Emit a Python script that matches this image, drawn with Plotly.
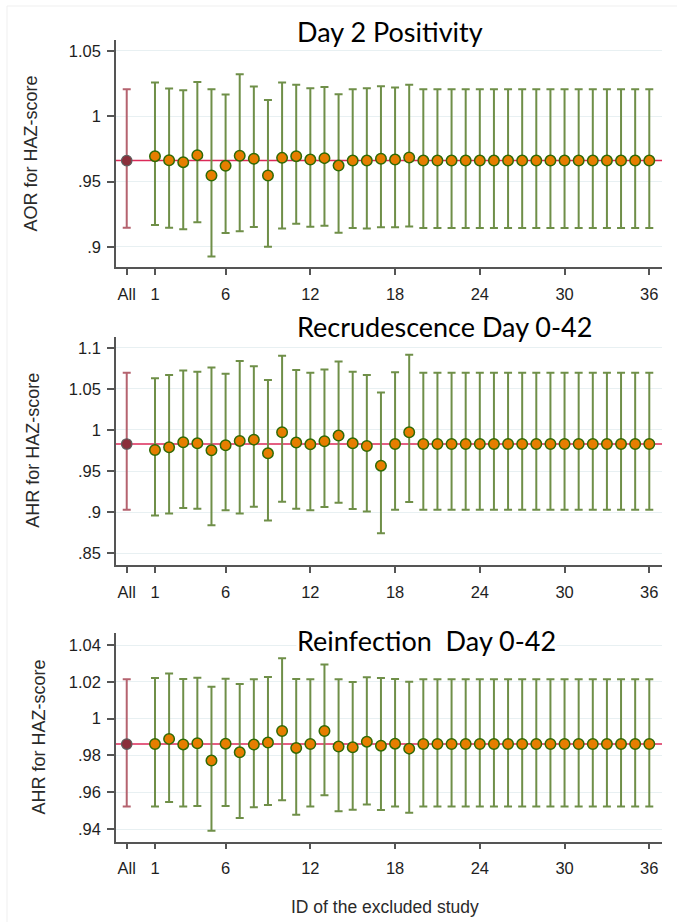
import plotly.graph_objects as go

W, H = 686, 922

# ---------------- data ----------------
study_ids = list(range(1, 37))
x_tickvals = [-1, 1, 6, 12, 18, 24, 30, 36]
x_ticktext = ["All", "1", "6", "12", "18", "24", "30", "36"]

titles = ["Day 2 Positivity", "Recrudescence Day 0-42", "Reinfection  Day 0-42"]
ytitles = ["AOR for HAZ-score", "AHR for HAZ-score", "AHR for HAZ-score"]
xtitle = "ID of the excluded study"

# Panel 1: Day 2 positivity
p1_all = [0.9660, 0.9145, 1.0207]  # estimate, lower, upper
p1_est = [0.9694, 0.9663, 0.9648, 0.9702, 0.9546, 0.9620, 0.9697, 0.9674, 0.9546, 0.9681,
          0.9694, 0.9668, 0.9679, 0.9622, 0.9660, 0.9660, 0.9674, 0.9668, 0.9684, 0.9660,
          0.9660, 0.9660, 0.9660, 0.9660, 0.9660, 0.9660, 0.9660, 0.9660, 0.9660, 0.9660,
          0.9660, 0.9660, 0.9660, 0.9660, 0.9660, 0.9660]
p1_lo = [0.9166, 0.9146, 0.9135, 0.9187, 0.8926, 0.9105, 0.9118, 0.9151, 0.9000, 0.9140,
         0.9176, 0.9153, 0.9161, 0.9107, 0.9143, 0.9140, 0.9150, 0.9150, 0.9155, 0.9143,
         0.9143, 0.9143, 0.9143, 0.9143, 0.9143, 0.9143, 0.9143, 0.9143, 0.9143, 0.9143,
         0.9143, 0.9143, 0.9143, 0.9143, 0.9143, 0.9143]
p1_hi = [1.0258, 1.0212, 1.0199, 1.0263, 1.0207, 1.0166, 1.0321, 1.0227, 1.0125, 1.0258,
         1.0242, 1.0214, 1.0224, 1.0168, 1.0207, 1.0214, 1.0230, 1.0220, 1.0242, 1.0207,
         1.0207, 1.0207, 1.0207, 1.0207, 1.0207, 1.0207, 1.0207, 1.0207, 1.0207, 1.0207,
         1.0207, 1.0207, 1.0207, 1.0207, 1.0207, 1.0207]
p1_yticks = [0.9, 0.95, 1.0, 1.05]
p1_yticktext = [".9", ".95", "1", "1.05"]
p1_yrange = [0.8845, 1.0584]

# Panel 2: Recrudescence day 0-42
p2_all = [0.9829, 0.9028, 1.0695]
p2_est = [0.9756, 0.9789, 0.9850, 0.9837, 0.9752, 0.9813, 0.9866, 0.9882, 0.9715, 0.9972,
          0.9846, 0.9825, 0.9862, 0.9931, 0.9837, 0.9805, 0.9565, 0.9829, 0.9972, 0.9829,
          0.9829, 0.9829, 0.9829, 0.9829, 0.9829, 0.9829, 0.9829, 0.9829, 0.9829, 0.9829,
          0.9829, 0.9829, 0.9829, 0.9829, 0.9829, 0.9829]
p2_lo = [0.8959, 0.8984, 0.9049, 0.9041, 0.8841, 0.9024, 0.8984, 0.9065, 0.8898, 0.9126,
         0.9041, 0.9024, 0.9061, 0.9114, 0.9037, 0.9008, 0.8744, 0.9028, 0.9122, 0.9028,
         0.9028, 0.9028, 0.9028, 0.9028, 0.9028, 0.9028, 0.9028, 0.9028, 0.9028, 0.9028,
         0.9028, 0.9028, 0.9028, 0.9028, 0.9028, 0.9028]
p2_hi = [1.0630, 1.0667, 1.0724, 1.0707, 1.0760, 1.0683, 1.0837, 1.0776, 1.0606, 1.0902,
         1.0728, 1.0695, 1.0736, 1.0833, 1.0707, 1.0667, 1.0455, 1.0703, 1.0915, 1.0695,
         1.0695, 1.0695, 1.0695, 1.0695, 1.0695, 1.0695, 1.0695, 1.0695, 1.0695, 1.0695,
         1.0695, 1.0695, 1.0695, 1.0695, 1.0695, 1.0695]
p2_yticks = [0.85, 0.9, 0.95, 1.0, 1.05, 1.1]
p2_yticktext = [".85", ".9", ".95", "1", "1.05", "1.1"]
p2_yrange = [0.8357, 1.1134]

# Panel 3: Reinfection day 0-42
p3_all = [0.9862, 0.9522, 1.0214]
p3_est = [0.9862, 0.9890, 0.9860, 0.9866, 0.9772, 0.9864, 0.9817, 0.9859, 0.9870, 0.9933,
          0.9841, 0.9862, 0.9933, 0.9848, 0.9844, 0.9875, 0.9853, 0.9864, 0.9837, 0.9862,
          0.9862, 0.9862, 0.9862, 0.9862, 0.9862, 0.9862, 0.9862, 0.9862, 0.9862, 0.9862,
          0.9862, 0.9862, 0.9862, 0.9862, 0.9862, 0.9862]
p3_lo = [0.9522, 0.9547, 0.9523, 0.9525, 0.9391, 0.9525, 0.9460, 0.9518, 0.9531, 0.9556,
         0.9478, 0.9522, 0.9583, 0.9496, 0.9505, 0.9533, 0.9504, 0.9523, 0.9489, 0.9523,
         0.9523, 0.9523, 0.9523, 0.9523, 0.9523, 0.9523, 0.9523, 0.9523, 0.9523, 0.9523,
         0.9523, 0.9523, 0.9523, 0.9523, 0.9523, 0.9523]
p3_hi = [1.0221, 1.0245, 1.0216, 1.0223, 1.0174, 1.0217, 1.0188, 1.0214, 1.0227, 1.0328,
         1.0216, 1.0214, 1.0294, 1.0214, 1.0199, 1.0225, 1.0221, 1.0216, 1.0201, 1.0214,
         1.0214, 1.0214, 1.0214, 1.0214, 1.0214, 1.0214, 1.0214, 1.0214, 1.0214, 1.0214,
         1.0214, 1.0214, 1.0214, 1.0214, 1.0214, 1.0214]
p3_yticks = [0.94, 0.96, 0.98, 1.0, 1.02, 1.04]
p3_yticktext = [".94", ".96", ".98", "1", "1.02", "1.04"]
p3_yrange = [0.9331, 1.0464]

x_range = [-1.76, 36.9]
all_x = -1

panels = [
    (p1_all, p1_est, p1_lo, p1_hi, p1_yticks, p1_yticktext, p1_yrange),
    (p2_all, p2_est, p2_lo, p2_hi, p2_yticks, p2_yticktext, p2_yrange),
    (p3_all, p3_est, p3_lo, p3_hi, p3_yticks, p3_yticktext, p3_yrange),
]

# ---------------- layout geometry (pixels) ----------------
plot_left, plot_right = 116, 662
panel_px = [(40, 267), (336.7, 565), (633.3, 841.7)]  # top, bottom
title_y_px = [31.5, 326.5, 640.5]
ytitle_x_px = [30, 33, 38]

GREEN_BAR = "#6f8f48"
ORANGE = "#e67e00"
MK_LINE = "#2f6a05"
ALL_BAR = "#b5636f"
ALL_FILL = "#8a2f3b"
REF_LINE = "#db2a58"
GRID = "#e8f0f2"
AXIS = "#555555"
TXT = "#1e1e1e"
SANS = "Liberation Sans"

fig = go.Figure()
layout = dict(
    width=W, height=H, autosize=False,
    margin=dict(l=0, r=0, t=0, b=0),
    paper_bgcolor="white", plot_bgcolor="white",
    showlegend=False,
    font=dict(family=SANS, size=16, color=TXT),
)
annotations = []
shapes = []

for i, (allv, est, lo, hi, yt, ytt, yr) in enumerate(panels):
    n = i + 1
    xa = "x" if n == 1 else f"x{n}"
    ya = "y" if n == 1 else f"y{n}"
    top, bot = panel_px[i]
    layout["xaxis" if n == 1 else f"xaxis{n}"] = dict(
        domain=[plot_left / W, plot_right / W], anchor=ya, range=x_range,
        tickmode="array", tickvals=x_tickvals, ticktext=x_ticktext,
        ticks="outside", ticklen=6, tickwidth=1.5, tickcolor=AXIS,
        ticklabelstandoff=5,
        showline=True, linecolor=AXIS, linewidth=1.5, showgrid=False, zeroline=False,
        tickfont=dict(family=SANS, size=16.5, color=TXT),
    )
    layout["yaxis" if n == 1 else f"yaxis{n}"] = dict(
        domain=[1 - bot / H, 1 - top / H], anchor=xa, range=yr,
        tickmode="array", tickvals=yt, ticktext=ytt,
        ticks="outside", ticklen=7, tickwidth=1.5, tickcolor=AXIS,
        ticklabelstandoff=3,
        showline=True, linecolor=AXIS, linewidth=1.5,
        showgrid=True, gridcolor=GRID, gridwidth=1.2, zeroline=False,
        tickfont=dict(family=SANS, size=16.5, color=TXT),
    )
    # reference line at overall estimate
    shapes.append(dict(type="line", xref=xa, yref=ya, x0=x_range[0], x1=x_range[1],
                       y0=allv[0], y1=allv[0], line=dict(color=REF_LINE, width=1.5),
                       layer="below"))
    # overall estimate
    fig.add_trace(go.Scatter(
        x=[all_x], y=[allv[0]], mode="markers", xaxis=xa, yaxis=ya,
        marker=dict(size=10.5, color=ALL_FILL, line=dict(color="#5e5e5e", width=1.2)),
        error_y=dict(type="data", symmetric=False, array=[allv[2] - allv[0]],
                     arrayminus=[allv[0] - allv[1]], color=ALL_BAR, thickness=2, width=4),
    ))
    # leave-one-out estimates
    fig.add_trace(go.Scatter(
        x=study_ids, y=est, mode="markers", xaxis=xa, yaxis=ya,
        marker=dict(size=10.5, color=ORANGE, line=dict(color=MK_LINE, width=1.5)),
        error_y=dict(type="data", symmetric=False,
                     array=[h - e for h, e in zip(hi, est)],
                     arrayminus=[e - l for e, l in zip(est, lo)],
                     color=GREEN_BAR, thickness=2, width=4),
    ))
    # panel title
    annotations.append(dict(
        text=titles[i], xref="paper", yref="paper", x=296 / W, y=1 - title_y_px[i] / H,
        xanchor="left", yanchor="middle", showarrow=False, bgcolor="white", borderpad=0,
        font=dict(family="Lato", size=27, color="#000000"),
    ))
    # y-axis title
    annotations.append(dict(
        text=ytitles[i], xref="paper", yref="paper", x=ytitle_x_px[i] / W,
        y=1 - (top + bot) / 2 / H, xanchor="center", yanchor="middle",
        textangle=-90, showarrow=False, font=dict(family=SANS, size=18, color="#2a2a2a"),
    ))

annotations.append(dict(
    text=xtitle, xref="paper", yref="paper", x=385 / W, y=1 - 907 / H,
    xanchor="center", yanchor="middle", showarrow=False,
    font=dict(family=SANS, size=17.5, color="#2a2a2a"),
))

# faint frame (top and left edges)
shapes.append(dict(type="line", xref="paper", yref="paper", x0=7 / W, x1=677 / W,
                   y0=1 - 6 / H, y1=1 - 6 / H, line=dict(color="#efefef", width=1)))
shapes.append(dict(type="line", xref="paper", yref="paper", x0=7 / W, x1=7 / W,
                   y0=0, y1=1 - 6 / H, line=dict(color="#efefef", width=1)))

layout["annotations"] = annotations
layout["shapes"] = shapes
fig.update_layout(**layout)
fig.write_html("out.html")
